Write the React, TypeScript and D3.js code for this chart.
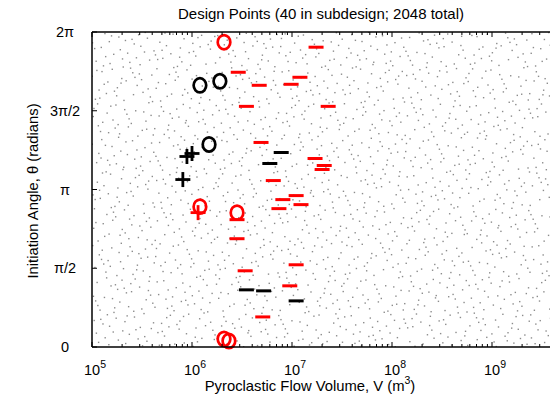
import React from "react";
import * as d3 from "d3";

// ---- data ----
const TITLE = "Design Points (40 in subdesign; 2048 total)";
const xTickExponents = [5, 6, 7, 8, 9, 10];
const xLabelExponents = [5, 6, 7, 8, 9];
const yTickValues = [0, Math.PI / 2, Math.PI, (3 * Math.PI) / 2, 2 * Math.PI];
const yTickLabels = ["0", "π/2", "π", "3π/2", "2π"];

// subdesign markers: volume (m^3), angle (rad)
const redO_V = [2.09e6, 1.2e6, 2.82e6, 2.09e6, 2.34e6];
const redO_T = [6.08, 2.8, 2.68, 0.16, 0.12];
const redPlus_V = [1.15e6];
const redPlus_T = [2.68];
const blackO_V = [1.2e6, 1.9e6, 1.48e6];
const blackO_T = [5.22, 5.3, 4.04];
const blackPlus_V = [8.9e5, 1.0e6, 8.1e5];
const blackPlus_T = [3.8, 3.86, 3.34];
const blackDash_V = [6.0e6, 7.8e6, 3.5e6, 5.2e6, 1.1e7];
const blackDash_T = [3.66, 3.88, 1.14, 1.12, 0.92];
const redDash_V = [
  1.74e7, 2.9e6, 4.7e6, 9.8e6, 1.2e7, 3.5e6, 2.3e7, 4.9e6, 1.7e7, 2.1e7, 2.0e7,
  6.5e6, 1.1e7, 8.1e6, 1.23e7, 7.4e6, 2.82e6, 2.82e6, 3.4e6, 1.1e7, 9.5e6, 5.1e6,
];
const redDash_T = [
  5.98, 5.48, 5.22, 5.24, 5.38, 4.8, 4.8, 4.08, 3.76, 3.62, 3.54,
  3.32, 3.02, 2.94, 2.84, 2.76, 2.54, 2.16, 1.52, 1.64, 1.22, 0.6,
];

// Background: the full 2048-point space-filling design is far too dense to
// transcribe; it is represented by a deterministic low-discrepancy (Halton) design
// over the same domain (log10 V in [5,10], theta in [0, 2pi]).
const TOTAL_POINTS = 2048;
function halton(i: number, b: number) {
  let f = 1, r = 0;
  while (i > 0) { f /= b; r += f * (i % b); i = Math.floor(i / b); }
  return r;
}
const bgLogV: number[] = [];
const bgT: number[] = [];
for (let i = 1; i <= TOTAL_POINTS; i++) {
  bgLogV.push(5 + 5 * halton(i, 2));
  bgT.push(2 * Math.PI * halton(i, 3));
}

const W = 550, H = 399;
const X0 = 92, X1 = 592, Y0 = 347, Y1 = 32;

export default function App() {
  const x = d3.scaleLog().domain([1e5, 1e10]).range([X0, X1]);
  const y = d3.scaleLinear().domain([0, 2 * Math.PI]).range([Y0, Y1]);
  const font = "Liberation Sans, Arial, Helvetica, sans-serif";

  const minor: number[] = [];
  for (let e = 5; e < 10; e++) for (let k = 2; k <= 9; k++) minor.push(k * Math.pow(10, e));

  const dash = (vs: number[], ts: number[], color: string, key: string) =>
    vs.map((v, i) => (
      <line key={key + i} x1={x(v) - 7.5} x2={x(v) + 7.5} y1={y(ts[i])} y2={y(ts[i])}
        stroke={color} strokeWidth={3} />
    ));
  const plus = (vs: number[], ts: number[], color: string, key: string) =>
    vs.map((v, i) => (
      <g key={key + i} stroke={color} strokeWidth={2.8}>
        <line x1={x(v) - 7.5} x2={x(v) + 7.5} y1={y(ts[i])} y2={y(ts[i])} />
        <line x1={x(v)} x2={x(v)} y1={y(ts[i]) - 7.5} y2={y(ts[i]) + 7.5} />
      </g>
    ));
  const oh = (vs: number[], ts: number[], color: string, key: string) =>
    vs.map((v, i) => (
      <ellipse key={key + i} cx={x(v)} cy={y(ts[i])} rx={6.3} ry={7.1} fill="none"
        stroke={color} strokeWidth={2.7} />
    ));

  return (
    <svg width={W} height={H} style={{ position: "absolute", left: 0, top: 0, background: "#fff" }}
      fontFamily={font}>
      <rect width={W} height={H} fill="#fff" />
      <defs>
        <clipPath id="plot"><rect x={X0} y={Y1} width={X1 - X0} height={Y0 - Y1} /></clipPath>
      </defs>
      <g clipPath="url(#plot)">
        {bgLogV.map((lv, i) => (
          <rect key={"bg" + i} x={x(Math.pow(10, lv)) - 0.7} y={y(bgT[i]) - 0.7}
            width={1.4} height={1.4} fill="#8c8c8c" />
        ))}
      </g>
      {/* markers */}
      {dash(redDash_V, redDash_T, "#ff0000", "rd")}
      {dash(blackDash_V, blackDash_T, "#000", "bd")}
      {plus(blackPlus_V, blackPlus_T, "#000", "bp")}
      {plus(redPlus_V, redPlus_T, "#ff0000", "rp")}
      {oh(blackO_V, blackO_T, "#000", "bo")}
      {oh(redO_V, redO_T, "#ff0000", "ro")}

      {/* axes box */}
      <g stroke="#000" strokeWidth={1.5} fill="none">
        <line x1={X0} x2={X1} y1={Y0} y2={Y0} />
        <line x1={X0} x2={X1} y1={Y1} y2={Y1} />
        <line x1={X0} x2={X0} y1={Y1} y2={Y0} />
      </g>
      <g stroke="#000" strokeWidth={1}>
        {xTickExponents.map((e) => (
          <g key={"xt" + e}>
            <line x1={x(Math.pow(10, e))} x2={x(Math.pow(10, e))} y1={Y0} y2={Y0 - 5} />
            <line x1={x(Math.pow(10, e))} x2={x(Math.pow(10, e))} y1={Y1} y2={Y1 + 5} />
          </g>
        ))}
        {minor.map((m) => (
          <g key={"xm" + m}>
            <line x1={x(m)} x2={x(m)} y1={Y0} y2={Y0 - 3} />
            <line x1={x(m)} x2={x(m)} y1={Y1} y2={Y1 + 3} />
          </g>
        ))}
        {yTickValues.map((t, i) => (
          <line key={"yt" + i} x1={X0} x2={X0 + 5} y1={y(t)} y2={y(t)} />
        ))}
      </g>
      {/* tick labels */}
      {xLabelExponents.map((e) => (
        <text key={"xl" + e} x={x(Math.pow(10, e)) + 3} y={375} textAnchor="middle"
          fontSize={14.5} fill="#000">
          10<tspan dy={-7} fontSize={10.5}>{e}</tspan>
        </text>
      ))}
      {yTickValues.map((t, i) => (
        <text key={"yl" + i} x={65} y={y(t) + 5} textAnchor="middle" fontSize={14.5} fill="#000">
          {yTickLabels[i]}
        </text>
      ))}
      {/* titles */}
      <text x={321} y={19} textAnchor="middle" fontSize={15} fill="#000">{TITLE}</text>
      <text x={310} y={391} textAnchor="middle" fontSize={14.8} fill="#000">
        Pyroclastic Flow Volume, V (m<tspan dy={-7} fontSize={10.5}>3</tspan><tspan dy={7}>)</tspan>
      </text>
      <text transform="translate(38,191) rotate(-90)" textAnchor="middle" fontSize={14.8} fill="#000">
        Initiation Angle, θ (radians)
      </text>
    </svg>
  );
}
